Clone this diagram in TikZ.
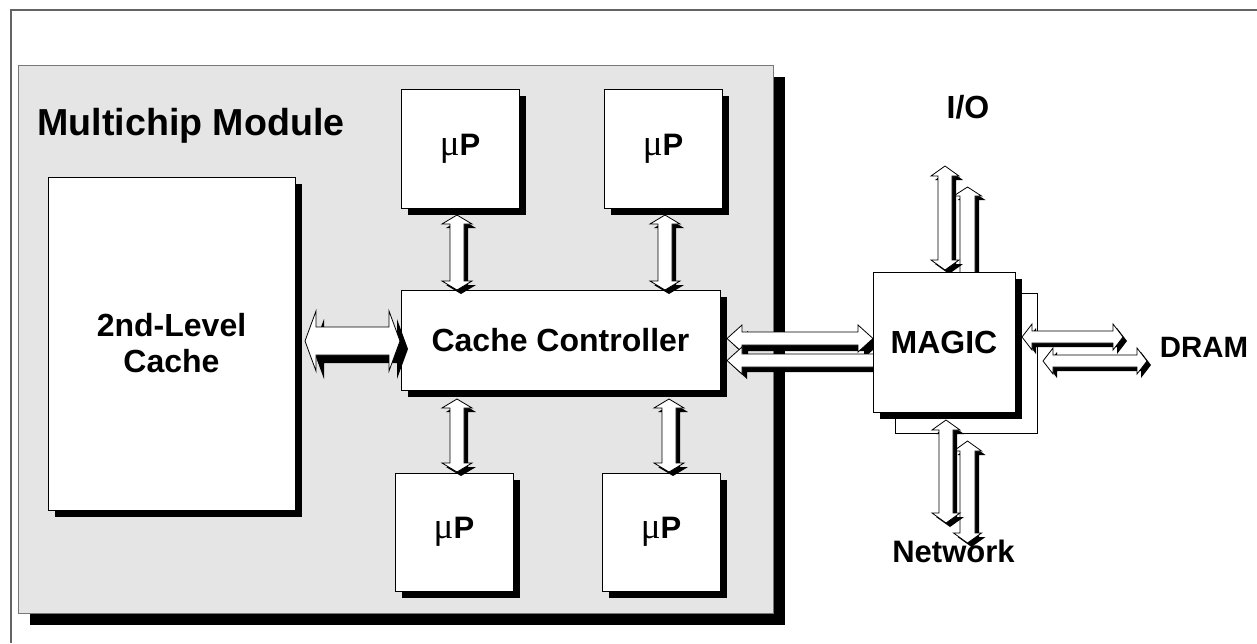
\documentclass[tikz,border=0pt]{standalone}
\usepackage{fontspec}
\setmainfont{Liberation Sans}
\newfontfamily\greekserif{Liberation Serif}
\usetikzlibrary{shadows}
\definecolor{modgray}{RGB}{229,229,229}
\definecolor{framegray}{RGB}{100,100,100}
\definecolor{edgegray}{RGB}{120,120,120}
\newcommand{\muP}{{\greekserif\fontsize{18.5}{20}\selectfont μ}\textbf{P}}
\tikzset{
  chipbox/.style={draw=black, fill=white, line width=0.5pt, inner sep=0pt,
    drop shadow={shadow xshift=3.5pt, shadow yshift=-3.5pt, opacity=1, fill=black}},
  lbl/.style={font=\fontsize{16}{18}\selectfont\bfseries, align=center},
  plbl/.style={font=\fontsize{15.5}{17}\selectfont},
  arrowbody/.style={draw=black, fill=white, line width=0.4pt, line join=miter},
}
% vertical block arrow: x, ytop, ybottom, shaft half, head half, head length, shadow
\newcommand{\varr}[7]{%
  \begin{scope}[shift={(#7,#7)}]
  \fill[black] (#1,#2) -- ({#1+#5},{#2+#6}) -- ({#1+#4},{#2+#6}) -- ({#1+#4},{#3-#6}) -- ({#1+#5},{#3-#6}) -- (#1,#3) -- ({#1-#5},{#3-#6}) -- ({#1-#4},{#3-#6}) -- ({#1-#4},{#2+#6}) -- ({#1-#5},{#2+#6}) -- cycle;
  \end{scope}
  \path[arrowbody] (#1,#2) -- ({#1+#5},{#2+#6}) -- ({#1+#4},{#2+#6}) -- ({#1+#4},{#3-#6}) -- ({#1+#5},{#3-#6}) -- (#1,#3) -- ({#1-#5},{#3-#6}) -- ({#1-#4},{#3-#6}) -- ({#1-#4},{#2+#6}) -- ({#1-#5},{#2+#6}) -- cycle;
}
% horizontal block arrow: y, xleft, xright, shaft half, head half, head length, shadow
\newcommand{\harr}[7]{%
  \begin{scope}[shift={(#7,#7)}]
  \fill[black] (#2,#1) -- ({#2+#6},{#1-#5}) -- ({#2+#6},{#1-#4}) -- ({#3-#6},{#1-#4}) -- ({#3-#6},{#1-#5}) -- (#3,#1) -- ({#3-#6},{#1+#5}) -- ({#3-#6},{#1+#4}) -- ({#2+#6},{#1+#4}) -- ({#2+#6},{#1+#5}) -- cycle;
  \end{scope}
  \path[arrowbody] (#2,#1) -- ({#2+#6},{#1-#5}) -- ({#2+#6},{#1-#4}) -- ({#3-#6},{#1-#4}) -- ({#3-#6},{#1-#5}) -- (#3,#1) -- ({#3-#6},{#1+#5}) -- ({#3-#6},{#1+#4}) -- ({#2+#6},{#1+#4}) -- ({#2+#6},{#1+#5}) -- cycle;
}
\begin{document}
\begin{tikzpicture}[x=0.5pt,y=-0.5pt]
\useasboundingbox (0,0) rectangle (1257,643);
% outer frame
\draw[framegray, line width=1pt] (11,643) -- (11,10) -- (1257,10);
% multichip module
\node[draw=edgegray, fill=modgray, line width=0.5pt, inner sep=0pt,
  minimum width=377.5pt, minimum height=274pt,
  drop shadow={shadow xshift=6pt, shadow yshift=-6pt, opacity=1, fill=black}]
  (mcm) at (395.5,339) {};
\node[anchor=base west, inner sep=0pt, font=\fontsize{18.8}{20}\selectfont\bfseries]
  (mcmlabel) at (37,135) {Multichip Module};
% boxes
\node[chipbox, lbl, minimum width=123.5pt, minimum height=166.5pt] (cache) at (171.5,343.5)
  {\baselineskip=18pt 2nd-Level\\Cache};
\node[chipbox, lbl, minimum width=159.5pt, minimum height=50pt] (cc) at (560.5,340) {Cache Controller};
\node[chipbox, plbl, minimum width=59pt, minimum height=59.5pt] (p1) at (460,148.5) {\muP};
\node[chipbox, plbl, minimum width=59pt, minimum height=59.5pt] (p2) at (663,148.5) {\muP};
\node[chipbox, plbl, minimum width=59pt, minimum height=59pt] (p3) at (454,532) {\muP};
\node[chipbox, plbl, minimum width=59pt, minimum height=59pt] (p4) at (661,532) {\muP};
% arrows inside module
\harr{341}{305}{400}{14}{30}{11}{8}
\varr{457}{215}{290}{7}{15}{9}{4}
\varr{665}{215}{290}{7}{15}{9}{4}
\varr{457}{399}{472}{7}{15}{9}{4}
\varr{669}{399}{472}{7}{15}{9}{4}
% back box of MAGIC
\node[draw=black, fill=white, line width=0.5pt, inner sep=0pt, minimum width=71pt, minimum height=70pt] (magicback) at (966,363) {};
% CC <-> MAGIC
\harr{338.5}{727}{873}{6.5}{13.5}{15}{6}
\harr{360.5}{727}{900}{6.5}{13.5}{15}{5}
% I/O
\varr{967.5}{187}{300}{7.5}{14}{9}{4}
\varr{945}{166}{270}{7}{14}{10}{4}
% Network
\varr{967.5}{441}{543}{7.5}{14}{10}{4}
\varr{946}{420}{523}{7}{14}{10}{4}
% DRAM
\harr{337}{1022}{1123}{6}{13}{10}{4}
\harr{361}{1043}{1147}{6}{13}{10}{4}
% MAGIC
\node[chipbox, lbl, minimum width=71pt, minimum height=70pt] (magic) at (944,342) {MAGIC};
% external labels
\node[lbl] (io) at (968,107) {I/O};
\node[font=\fontsize{14.7}{16}\selectfont\bfseries] (dram) at (1204,347) {DRAM};
\node[anchor=base, inner sep=0pt, font=\fontsize{15.5}{17}\selectfont\bfseries] (net) at (953.5,562) {Network};
\end{tikzpicture}
\end{document}
